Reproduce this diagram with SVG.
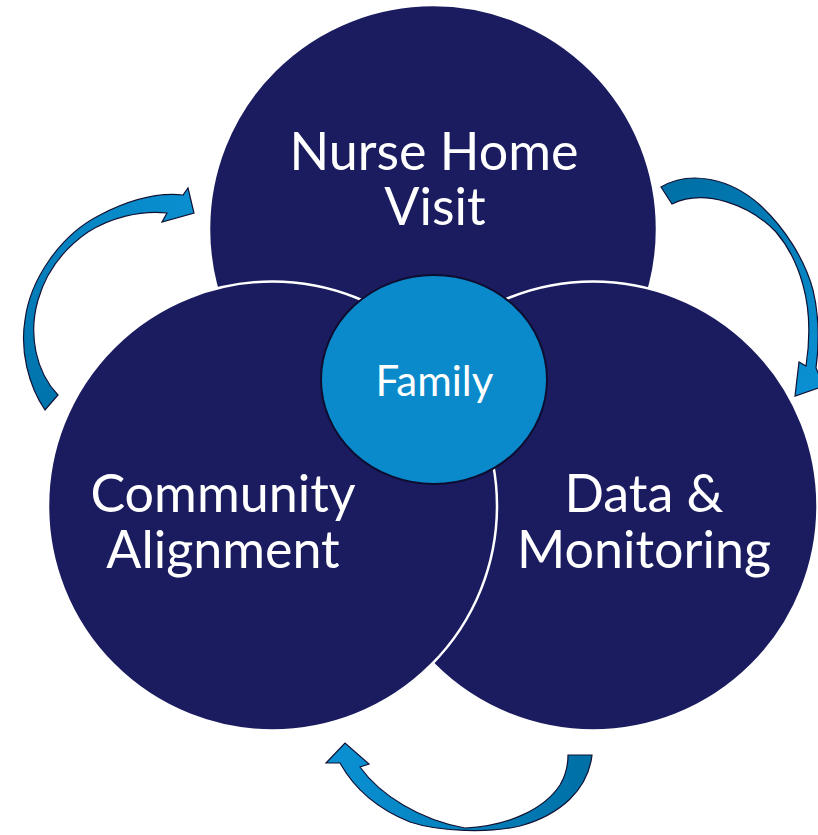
<svg xmlns="http://www.w3.org/2000/svg" width="818" height="835" viewBox="0 0 818 835">
<defs>
<style>
.big{fill:#1b1c5f;stroke:#ffffff;stroke-width:2.5}
.lbl{font-family:Lato,"Open Sans","Liberation Sans",sans-serif;fill:#ffffff;text-anchor:middle}
.arrow{stroke:#111133;stroke-width:1.2;stroke-linejoin:miter}
</style>
<linearGradient id="gL" gradientUnits="userSpaceOnUse" x1="50" y1="400" x2="190" y2="200"><stop offset="0" stop-color="#0074ad"/><stop offset="1" stop-color="#0a8fd0"/></linearGradient>
<linearGradient id="gR" gradientUnits="userSpaceOnUse" x1="665" y1="190" x2="805" y2="390"><stop offset="0" stop-color="#0070a6"/><stop offset="1" stop-color="#0a90d2"/></linearGradient>
<linearGradient id="gB" gradientUnits="userSpaceOnUse" x1="590" y1="760" x2="340" y2="760"><stop offset="0" stop-color="#0070a6"/><stop offset="1" stop-color="#0a90d2"/></linearGradient>
</defs>
<g id="connectors">
<path class="arrow" fill="url(#gL)" d="M45,410 C28,385 20,350 25,320 C30,280 60,235 100,215 C125,202 155,192 183,195 L188,188 L194,213 L162,222 L167,213 C140,210 110,218 88,232 C62,250 46,272 38,300 C28,335 36,372 58,395 Z"/>
<path class="arrow" fill="url(#gR)" d="M661,187 C690,170 730,178 760,205 C785,228 805,260 813,290 C819,315 819,345 816,368 L824,386 L795,396 L799,362 L806,366 C810,340 810,310 803,285 C797,263 788,246 776,232 C750,205 705,188 672,204 Z"/>
<path class="arrow" fill="url(#gB)" d="M592,755 C588,790 560,815 520,826 C490,833 440,832 410,822 C380,810 355,790 340,763 L326,763 L345,743 L369,764 L360,767 C380,795 420,820 465,828 C510,826 545,808 560,785 C566,775 568,765 568,755 Z"/>
</g>
<g id="nurse">
<circle class="big" cx="433" cy="229" r="224"/>
<text class="lbl" x="434" y="170" font-size="52">Nurse Home</text>
<text class="lbl" x="435" y="225" font-size="52">Visit</text>
</g>
<g id="data">
<circle class="big" cx="593" cy="506" r="224.5"/>
<text class="lbl" x="644" y="512" font-size="52">Data &amp;</text>
<text class="lbl" x="644" y="568" font-size="52">Monitoring</text>
</g>
<g id="community">
<circle class="big" cx="272.5" cy="506" r="224.5"/>
<text class="lbl" x="223" y="512" font-size="52">Community</text>
<text class="lbl" x="223" y="568" font-size="52">Alignment</text>
</g>
<g id="family">
<ellipse cx="434" cy="379.5" rx="113" ry="104.5" fill="#0a8acb" stroke="#0d0d30" stroke-width="2"/>
<text class="lbl" x="434.5" y="396" font-size="42">Family</text>
</g>
</svg>
